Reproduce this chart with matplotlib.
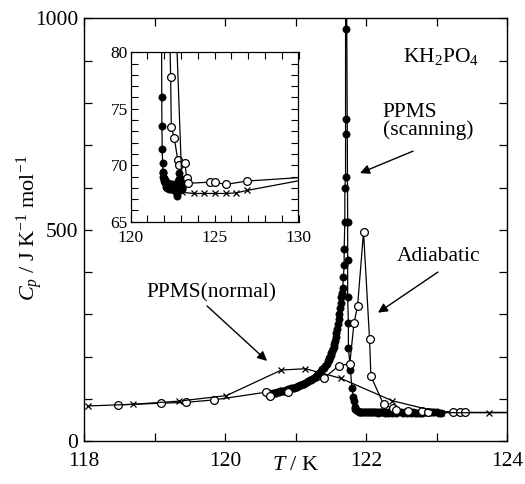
import matplotlib
matplotlib.use("Agg")
import matplotlib.pyplot as plt
from matplotlib.ticker import MultipleLocator, FixedLocator

plt.rcParams['font.family'] = ['Liberation Serif', 'DejaVu Serif']
plt.rcParams['mathtext.fontset'] = 'custom'
plt.rcParams['mathtext.rm'] = 'Liberation Serif'
plt.rcParams['mathtext.it'] = 'Liberation Serif:italic'

# ---------------- data ----------------
# PPMS (scanning) - filled circles
T_scan = [120.62, 120.63, 120.64, 120.66, 120.68, 120.70, 120.72, 120.74, 120.76, 120.78, 120.80,
          120.82, 120.84, 120.86, 120.88, 120.90, 120.92, 120.94, 120.96, 120.98, 121.00,
          121.02, 121.04, 121.06, 121.08, 121.10, 121.12, 121.14, 121.16, 121.18, 121.20,
          121.22, 121.24, 121.26, 121.28, 121.30, 121.32, 121.34, 121.36, 121.38, 121.40,
          121.42, 121.44, 121.46, 121.47, 121.48, 121.49, 121.50, 121.51, 121.52, 121.53,
          121.54, 121.55, 121.56, 121.57, 121.58, 121.59, 121.60, 121.61, 121.62, 121.63,
          121.64, 121.65, 121.66, 121.67, 121.68, 121.69, 121.69, 121.70, 121.70,
          121.71, 121.71, 121.71, 121.71, 121.72,
          121.74, 121.74, 121.74, 121.75, 121.75, 121.78, 121.80, 121.82, 121.83,
          121.84, 121.85, 121.86, 121.88, 121.90, 121.92,
          121.93, 121.95, 121.97, 121.99, 122.01, 122.03, 122.05, 122.07, 122.09, 122.11,
          122.13, 122.15, 122.17, 122.19, 122.21, 122.23, 122.25, 122.27, 122.29, 122.31,
          122.33, 122.35, 122.37, 122.40, 122.43, 122.46, 122.49, 122.52, 122.55, 122.58,
          122.61, 122.64, 122.67, 122.70, 122.73, 122.76, 122.79, 122.82, 122.85, 122.88,
          122.91, 122.94, 122.97, 123.00, 123.03, 123.06]
Cp_scan = [110, 114, 113, 112, 114, 115, 115, 116, 117, 118, 119,
           119, 120, 121, 122, 123, 124, 125, 126, 127, 128,
           129, 130, 132, 133, 135, 136, 138, 140, 142, 144,
           146, 148, 150, 153, 156, 159, 162, 166, 170, 174,
           178, 183, 189, 192, 196, 200, 204, 208, 213, 218,
           224, 231, 238, 246, 256, 266, 278, 289, 300, 314,
           328, 340, 350, 362, 389, 417, 454, 519, 598,
           626, 726, 761, 974, 1250,
           519, 429, 341, 279, 220, 168, 125, 105, 96,
           82, 76, 73.5, 71.4, 70.2, 69.4,
           69.3, 69.0, 68.8, 68.9, 68.6, 68.7, 68.4, 68.5, 68.3, 68.4,
           68.1, 68.3, 68.0, 68.2, 68.4, 68.1, 68.3, 68.0, 68.2, 67.9,
           68.1, 68.3, 68.0, 68.2, 67.9, 68.1, 68.3, 68.0, 68.2, 67.8,
           68.1, 67.9, 68.2, 67.6, 67.3, 67.5, 68.0, 68.6, 69.3, 68.8,
           68.4, 68.9, 68.2, 68.5, 68.0, 67.9]

# Adiabatic - open circles
T_adia = [118.48, 119.09, 119.44, 119.85, 120.58, 120.64, 120.90, 121.40, 121.62, 121.77,
          121.83, 121.88, 121.965, 122.05, 122.07, 122.25, 122.38, 122.42, 122.60, 122.80,
          122.88, 123.23, 123.33, 123.41, 124.70, 125.02, 125.65, 126.94, 131.0]
Cp_adia = [86, 90, 92, 98, 116, 108, 117, 149, 179, 183,
           280, 319, 495, 242, 154, 87, 77.8, 73.4, 72.4, 70.5,
           70.0, 70.2, 68.9, 68.4, 68.5, 68.5, 68.3, 68.6, 69.0]

# PPMS (normal) - crosses
T_norm = [118.05, 118.70, 119.35, 120.02, 120.80, 121.14, 121.64, 122.37, 123.07, 123.75,
          124.36, 125.02, 125.65, 126.29, 126.94, 131.0]
Cp_norm = [83.5, 87.5, 95, 108, 168.5, 171.6, 149, 96, 67.6, 67.5,
           67.5, 67.5, 67.5, 67.55, 67.77, 68.9]

main_xticks = [118, 120, 122, 124]
main_yticks = [0, 500, 1000]
inset_xticks = [120, 125, 130]
inset_yticks = [65, 70, 75, 80]

# ---------------- figure ----------------
fig = plt.figure(figsize=(5.25, 4.84), dpi=100)
ax = fig.add_axes([84 / 525, 1 - 441.3 / 484, 423 / 525, 423 / 484])


def draw_series(a):
    a.plot(T_scan, Cp_scan, '-', color='black', lw=0.9, marker='o', ms=5.2,
           mfc='black', mec='black', mew=0.5, zorder=3)
    a.plot(T_adia, Cp_adia, '-', color='black', lw=0.9, marker='o', ms=5.6,
           mfc='white', mec='black', mew=0.9, zorder=4)
    a.plot(T_norm, Cp_norm, '-', color='black', lw=0.9, marker='x', ms=4.8,
           mec='black', mew=0.9, zorder=5)


draw_series(ax)
ax.set_xlim(118, 124)
ax.set_ylim(0, 1000)
ax.xaxis.set_major_locator(FixedLocator(main_xticks))
ax.xaxis.set_minor_locator(MultipleLocator(1))
ax.yaxis.set_major_locator(FixedLocator(main_yticks))
ax.yaxis.set_minor_locator(MultipleLocator(100))
ax.tick_params(which='both', direction='in', top=True, right=True,
               length=6, width=0.9, labelsize=15.5, pad=4)
ax.tick_params(axis='x', pad=7.5)
for s in ax.spines.values():
    s.set_linewidth(1.0)

fig.text(296 / 525, 1 - 466 / 484, '$T$ / K', ha='center', va='center', fontsize=16)
fig.text(30 / 525, 1 - 228 / 484, '$C_p$ / J K$^{-1}$ mol$^{-1}$', ha='center',
         va='center', rotation=90, fontsize=16)

ax.text(122.525, 896.7, 'KH$_2$PO$_4$', fontsize=15.5, ha='left', va='baseline')
ax.text(122.24, 767, 'PPMS', fontsize=15.5, ha='left', va='baseline')
ax.text(122.24, 724, '(scanning)', fontsize=15.5, ha='left', va='baseline')
ax.text(122.44, 426, 'Adiabatic', fontsize=15.5, ha='left', va='baseline')
ax.text(118.88, 339, 'PPMS(normal)', fontsize=15.5, ha='left', va='baseline')

arrow = dict(arrowstyle='-|>', color='black', lw=1.0, mutation_scale=14,
             shrinkA=0, shrinkB=0)
ax.annotate('', xy=(121.915, 634), xytext=(122.667, 686), arrowprops=arrow)
ax.annotate('', xy=(122.17, 304), xytext=(123.02, 400), arrowprops=arrow)
ax.annotate('', xy=(120.596, 190), xytext=(119.745, 320), arrowprops=arrow)

# ---------------- inset ----------------
ins = fig.add_axes([130.7 / 525, 1 - 221.7 / 484, 167.8 / 525, 169.4 / 484])
draw_series(ins)
ins.set_xlim(120, 130)
ins.set_ylim(65, 80)
ins.xaxis.set_major_locator(FixedLocator(inset_xticks))
ins.xaxis.set_minor_locator(MultipleLocator(1))
ins.yaxis.set_major_locator(FixedLocator(inset_yticks))
ins.yaxis.set_minor_locator(MultipleLocator(1))
ins.tick_params(which='both', direction='in', top=True, right=True,
                length=5, width=0.8, labelsize=12.5, pad=2)
ins.tick_params(axis='x', pad=6)
for s in ins.spines.values():
    s.set_linewidth(0.9)

fig.savefig('out.png', dpi=100)
